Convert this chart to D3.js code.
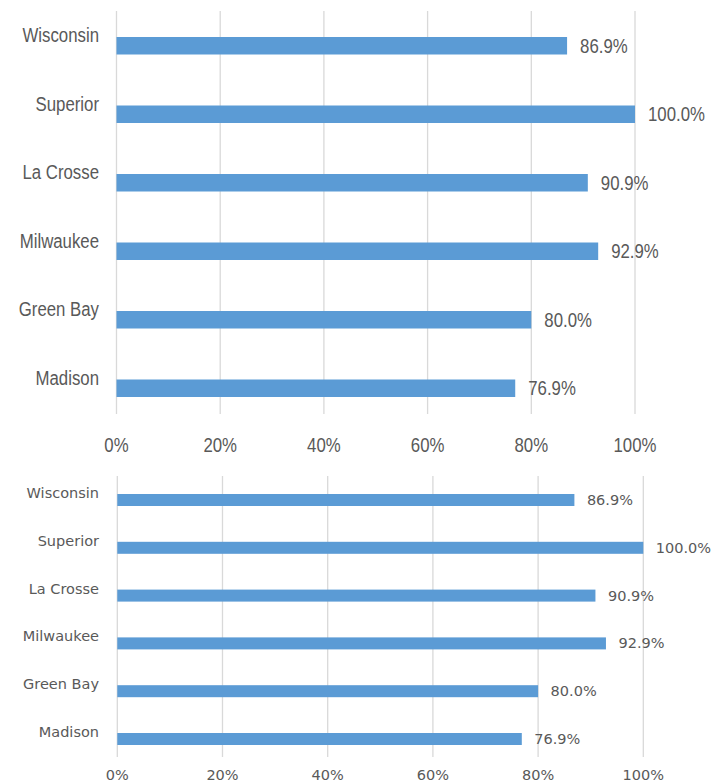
<!DOCTYPE html>
<html>
<head>
<meta charset="utf-8">
<script src="https://cdn.jsdelivr.net/npm/d3@7"></script>
<style>
  body { margin: 0; background: #fff; }
  svg { display: block; }
</style>
</head>
<body>
<div id="chart"></div>
<script>
// Campus values (share, 0..1), top to bottom
const campuses = ["Wisconsin", "Superior", "La Crosse", "Milwaukee", "Green Bay", "Madison"];
const shares = [0.869, 1.0, 0.909, 0.929, 0.80, 0.769];
const ticks = [0, 0.2, 0.4, 0.6, 0.8, 1.0];

const width = 728;
const height = 784;

const svg = d3.select("#chart")
  .append("svg")
  .attr("width", width)
  .attr("height", height);

const rows = campuses.map((c, i) => ({ campus: c, value: shares[i] }));

// text placed at (x, y) then squeezed horizontally by sx
function addText(g, x, y, sx, anchor, opt, str, baseline) {
  g.append("text")
    .attr("transform", `translate(${x},${y}) scale(${sx},1)`)
    .attr("text-anchor", anchor)
    .attr("dominant-baseline", baseline || "central")
    .style("font-family", opt.font)
    .style("font-size", opt.fontSize + "px")
    .style("fill", "#595959")
    .text(str);
}

// one bar panel; both copies share the data, only the look differs
function drawPanel(opt) {
  const g = svg.append("g");

  const x = d3.scaleLinear()
    .domain([0, 1])
    .range([opt.x0, opt.x1]);

  const y = d3.scaleBand()
    .domain(campuses)
    .range([opt.bandTop, opt.bandTop + opt.step * campuses.length]);

  // vertical gridlines
  g.selectAll("line.grid")
    .data(ticks)
    .enter()
    .append("line")
    .attr("x1", d => x(d))
    .attr("x2", d => x(d))
    .attr("y1", opt.gridTop)
    .attr("y2", opt.gridBottom)
    .attr("stroke", "#d9d9d9")
    .attr("stroke-width", 1.3);

  // bars
  g.selectAll("rect")
    .data(rows)
    .enter()
    .append("rect")
    .attr("x", x(0))
    .attr("y", d => y(d.campus) + opt.barOffset)
    .attr("width", d => x(d.value) - x(0))
    .attr("height", opt.barHeight)
    .attr("fill", "#5b9bd5");

  rows.forEach(d => {
    // category label
    addText(g, opt.labelRight, y(d.campus) + opt.labelOffset, opt.sx, "end", opt, d.campus);
    // value label
    addText(g, x(d.value) + opt.valueGap, y(d.campus) + opt.barOffset + opt.barHeight / 2,
      opt.sx, "start", opt, d3.format(".1%")(d.value));
  });

  // x axis tick labels
  ticks.forEach(t => {
    addText(g, x(t), opt.tickBaseline, opt.sx, "middle", opt, d3.format(".0%")(t), "alphabetic");
  });
}

// top copy: narrow-looking font
drawPanel({
  x0: 116.5, x1: 635,
  bandTop: 2, step: 68.5,
  barOffset: 35, barHeight: 17.5,
  labelOffset: 33,
  gridTop: 11, gridBottom: 414,
  labelRight: 99, valueGap: 13,
  tickBaseline: 452,
  font: "'Liberation Sans', Arial, sans-serif",
  fontSize: 21,
  sx: 0.8
});

// bottom copy: regular font
drawPanel({
  x0: 117.3, x1: 643.3,
  bandTop: 470, step: 47.8,
  barOffset: 24, barHeight: 12,
  labelOffset: 23,
  gridTop: 476, gridBottom: 757,
  labelRight: 99, valueGap: 12.5,
  tickBaseline: 779.5,
  font: "'DejaVu Sans', sans-serif",
  fontSize: 14.5,
  sx: 1
});
</script>
</body>
</html>
